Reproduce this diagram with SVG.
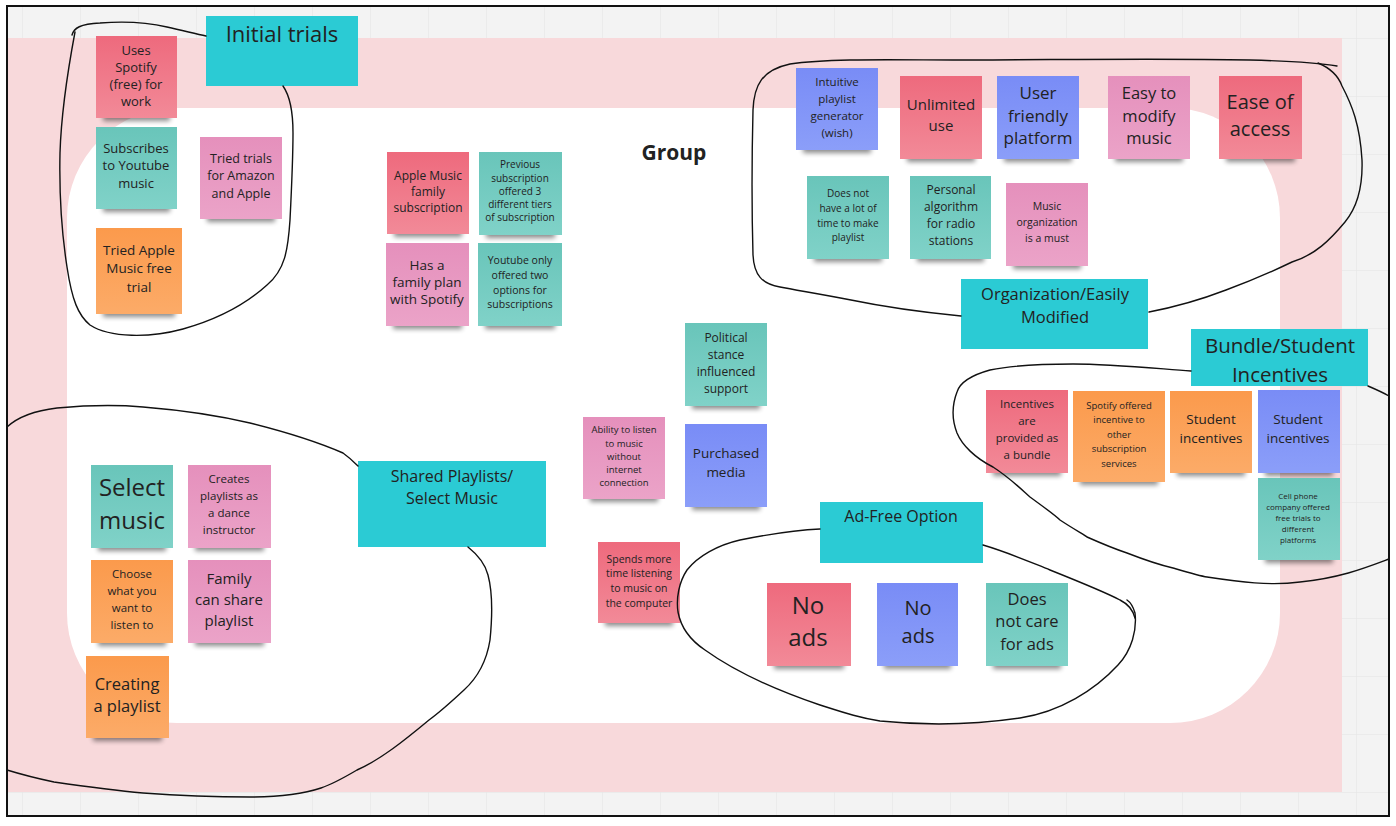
<svg xmlns="http://www.w3.org/2000/svg" width="1396" height="826" viewBox="0 0 1396 826">
<style>
.t{font-family:"Open Sans","Noto Sans",sans-serif;fill:#222;text-anchor:middle;dominant-baseline:central}
.h{fill:#2bcbd4}
.sh{fill:#000;opacity:.45;filter:url(#blur)}
.loop{fill:none;stroke:#111;stroke-width:1.4;stroke-linecap:round}
</style>
<defs>
<filter id="blur" x="-20%" y="-100%" width="140%" height="300%"><feGaussianBlur stdDeviation="2.5"/></filter>
<linearGradient id="gRed" x1="0" y1="0" x2="0" y2="1"><stop offset="0" stop-color="#ee6a7d"/><stop offset="1" stop-color="#f28a98"/></linearGradient>
<linearGradient id="gTeal" x1="0" y1="0" x2="0" y2="1"><stop offset="0" stop-color="#69c5ba"/><stop offset="1" stop-color="#80d2c8"/></linearGradient>
<linearGradient id="gPink" x1="0" y1="0" x2="0" y2="1"><stop offset="0" stop-color="#e590bc"/><stop offset="1" stop-color="#eba3c8"/></linearGradient>
<linearGradient id="gOrange" x1="0" y1="0" x2="0" y2="1"><stop offset="0" stop-color="#fb9a4c"/><stop offset="1" stop-color="#fcab68"/></linearGradient>
<linearGradient id="gBlue" x1="0" y1="0" x2="0" y2="1"><stop offset="0" stop-color="#798cf6"/><stop offset="1" stop-color="#8b9ef9"/></linearGradient>
<pattern id="grid" x="22" y="38" width="58" height="58" patternUnits="userSpaceOnUse"><path d="M0,0 V58 M0,0 H58" stroke="#e3e3e3" stroke-width="1" fill="none"/></pattern>
</defs>
<rect x="0" y="0" width="1396" height="826" fill="#ffffff"/>
<g id="background">
<rect x="7" y="6" width="1382" height="810" fill="#f3f3f3"/>
<rect x="7" y="6" width="1382" height="810" fill="url(#grid)"/>
<rect x="7" y="38" width="1335" height="754" fill="#f8d9db"/>
<rect x="67" y="108" width="1213" height="615" rx="110" ry="110" fill="#ffffff"/>
<text class="t" x="674" y="152" font-size="21" font-weight="bold" fill="#111">Group</text>
</g>

<g id="h-init"><rect class="h" x="206" y="16" width="152" height="70"/><text class="t" x="282" y="33" font-size="22">Initial trials</text></g>
<g id="n1"><rect class="sh" x="103" y="112" width="67" height="9"/><rect x="96" y="36" width="81" height="82" fill="url(#gRed)"/><text class="t" font-size="13"><tspan x="136" y="50">Uses</tspan><tspan x="136" y="67">Spotify</tspan><tspan x="136" y="84">(free) for</tspan><tspan x="136" y="101">work</tspan></text></g>
<g id="n2"><rect class="sh" x="103" y="203" width="67" height="9"/><rect x="96" y="127" width="81" height="82" fill="url(#gTeal)"/><text class="t" font-size="13"><tspan x="136" y="148">Subscribes</tspan><tspan x="136" y="165">to Youtube</tspan><tspan x="136" y="183">music</tspan></text></g>
<g id="n3"><rect class="sh" x="207" y="213" width="68" height="9"/><rect x="200" y="137" width="82" height="82" fill="url(#gPink)"/><text class="t" font-size="12.5"><tspan x="241" y="158">Tried trials</tspan><tspan x="241" y="175">for Amazon</tspan><tspan x="241" y="193">and Apple</tspan></text></g>
<g id="n4"><rect class="sh" x="103" y="308" width="72" height="9"/><rect x="96" y="228" width="86" height="86" fill="url(#gOrange)"/><text class="t" font-size="13.5"><tspan x="139" y="250">Tried Apple</tspan><tspan x="139" y="268">Music free</tspan><tspan x="139" y="287">trial</tspan></text></g>

<g id="m1"><rect class="sh" x="394" y="228" width="68" height="9"/><rect x="387" y="152" width="82" height="82" fill="url(#gRed)"/><text class="t" font-size="12"><tspan x="428" y="175">Apple Music</tspan><tspan x="428" y="191">family</tspan><tspan x="428" y="207">subscription</tspan></text></g>
<g id="m2"><rect class="sh" x="486" y="229" width="69" height="9"/><rect x="479" y="152" width="83" height="83" fill="url(#gTeal)"/><text class="t" font-size="10"><tspan x="520" y="164">Previous</tspan><tspan x="520" y="178">subscription</tspan><tspan x="520" y="191">offered 3</tspan><tspan x="520" y="204">different tiers</tspan><tspan x="520" y="217">of subscription</tspan></text></g>
<g id="m3"><rect class="sh" x="393" y="320" width="69" height="9"/><rect x="386" y="243" width="83" height="83" fill="url(#gPink)"/><text class="t" font-size="13.5"><tspan x="427" y="265">Has a</tspan><tspan x="427" y="282">family plan</tspan><tspan x="427" y="299">with Spotify</tspan></text></g>
<g id="m4"><rect class="sh" x="485" y="320" width="70" height="9"/><rect x="478" y="243" width="84" height="83" fill="url(#gTeal)"/><text class="t" font-size="10.5"><tspan x="520" y="260">Youtube only</tspan><tspan x="520" y="275">offered two</tspan><tspan x="520" y="290">options for</tspan><tspan x="520" y="304">subscriptions</tspan></text></g>

<g id="o1"><rect class="sh" x="803" y="144" width="68" height="9"/><rect x="796" y="68" width="82" height="82" fill="url(#gBlue)"/><text class="t" font-size="11.5"><tspan x="837" y="81">Intuitive</tspan><tspan x="837" y="98">playlist</tspan><tspan x="837" y="115">generator</tspan><tspan x="837" y="132">(wish)</tspan></text></g>
<g id="o2"><rect class="sh" x="907" y="153" width="68" height="9"/><rect x="900" y="76" width="82" height="83" fill="url(#gRed)"/><text class="t" font-size="15"><tspan x="941" y="104">Unlimited</tspan><tspan x="941" y="125">use</tspan></text></g>
<g id="o3"><rect class="sh" x="1004" y="153" width="68" height="9"/><rect x="997" y="76" width="82" height="83" fill="url(#gBlue)"/><text class="t" font-size="17"><tspan x="1038" y="92">User</tspan><tspan x="1038" y="115">friendly</tspan><tspan x="1038" y="137">platform</tspan></text></g>
<g id="o4"><rect class="sh" x="1115" y="153" width="68" height="9"/><rect x="1108" y="76" width="82" height="83" fill="url(#gPink)"/><text class="t" font-size="16.5"><tspan x="1149" y="92">Easy to</tspan><tspan x="1149" y="115">modify</tspan><tspan x="1149" y="137">music</tspan></text></g>
<g id="o5"><rect class="sh" x="1226" y="153" width="69" height="9"/><rect x="1219" y="76" width="83" height="83" fill="url(#gRed)"/><text class="t" font-size="20"><tspan x="1260" y="101">Ease of</tspan><tspan x="1260" y="128">access</tspan></text></g>
<g id="o6"><rect class="sh" x="814" y="253" width="68" height="9"/><rect x="807" y="176" width="82" height="83" fill="url(#gTeal)"/><text class="t" font-size="10"><tspan x="848" y="193">Does not</tspan><tspan x="848" y="208">have a lot of</tspan><tspan x="848" y="223">time to make</tspan><tspan x="848" y="237">playlist</tspan></text></g>
<g id="o7"><rect class="sh" x="917" y="253" width="67" height="9"/><rect x="910" y="176" width="81" height="83" fill="url(#gTeal)"/><text class="t" font-size="12"><tspan x="951" y="189">Personal</tspan><tspan x="951" y="206">algorithm</tspan><tspan x="951" y="223">for radio</tspan><tspan x="951" y="240">stations</tspan></text></g>
<g id="o8"><rect class="sh" x="1013" y="260" width="68" height="9"/><rect x="1006" y="183" width="82" height="83" fill="url(#gPink)"/><text class="t" font-size="10.5"><tspan x="1047" y="206">Music</tspan><tspan x="1047" y="222">organization</tspan><tspan x="1047" y="238">is a must</tspan></text></g>
<g id="h-org"><rect class="h" x="961" y="279" width="187" height="70"/><text class="t" font-size="16.5"><tspan x="1055" y="293">Organization/Easily</tspan><tspan x="1055" y="316">Modified</tspan></text></g>

<g id="h-bundle"><rect class="h" x="1191" y="329" width="177" height="57"/><text class="t" font-size="20.5"><tspan x="1280" y="345">Bundle/Student</tspan><tspan x="1280" y="374">Incentives</tspan></text></g>
<g id="b1"><rect class="sh" x="993" y="467" width="68" height="9"/><rect x="986" y="390" width="82" height="83" fill="url(#gRed)"/><text class="t" font-size="11.5"><tspan x="1027" y="403">Incentives</tspan><tspan x="1027" y="420">are</tspan><tspan x="1027" y="437">provided as</tspan><tspan x="1027" y="454">a bundle</tspan></text></g>
<g id="b2"><rect class="sh" x="1080" y="476" width="78" height="9"/><rect x="1073" y="391" width="92" height="91" fill="url(#gOrange)"/><text class="t" font-size="9.5"><tspan x="1119" y="405">Spotify offered</tspan><tspan x="1119" y="419">incentive to</tspan><tspan x="1119" y="434">other</tspan><tspan x="1119" y="448">subscription</tspan><tspan x="1119" y="463">services</tspan></text></g>
<g id="b3"><rect class="sh" x="1177" y="467" width="68" height="9"/><rect x="1170" y="391" width="82" height="82" fill="url(#gOrange)"/><text class="t" font-size="13.5"><tspan x="1211" y="419">Student</tspan><tspan x="1211" y="438">incentives</tspan></text></g>
<g id="b4"><rect class="sh" x="1265" y="467" width="68" height="9"/><rect x="1258" y="390" width="82" height="83" fill="url(#gBlue)"/><text class="t" font-size="13.5"><tspan x="1298" y="419">Student</tspan><tspan x="1298" y="438">incentives</tspan></text></g>
<g id="b5"><rect class="sh" x="1265" y="554" width="68" height="9"/><rect x="1258" y="478" width="82" height="82" fill="url(#gTeal)"/><text class="t" font-size="8"><tspan x="1298" y="495">Cell phone</tspan><tspan x="1298" y="506">company offered</tspan><tspan x="1298" y="517">free trials to</tspan><tspan x="1298" y="528">different</tspan><tspan x="1298" y="539">platforms</tspan></text></g>

<g id="c1"><rect class="sh" x="692" y="400" width="68" height="9"/><rect x="685" y="323" width="82" height="83" fill="url(#gTeal)"/><text class="t" font-size="12"><tspan x="726" y="337">Political</tspan><tspan x="726" y="354">stance</tspan><tspan x="726" y="371">influenced</tspan><tspan x="726" y="388">support</tspan></text></g>
<g id="c2"><rect class="sh" x="590" y="493" width="68" height="9"/><rect x="583" y="417" width="82" height="82" fill="url(#gPink)"/><text class="t" font-size="9.5"><tspan x="624" y="429">Ability to listen</tspan><tspan x="624" y="443">to music</tspan><tspan x="624" y="456">without</tspan><tspan x="624" y="469">internet</tspan><tspan x="624" y="482">connection</tspan></text></g>
<g id="c3"><rect class="sh" x="692" y="501" width="68" height="9"/><rect x="685" y="424" width="82" height="83" fill="url(#gBlue)"/><text class="t" font-size="13.5"><tspan x="726" y="453">Purchased</tspan><tspan x="726" y="472">media</tspan></text></g>
<g id="c4"><rect class="sh" x="605" y="617" width="68" height="9"/><rect x="598" y="542" width="82" height="81" fill="url(#gRed)"/><text class="t" font-size="10.5"><tspan x="639" y="559">Spends more</tspan><tspan x="639" y="573">time listening</tspan><tspan x="639" y="588">to music on</tspan><tspan x="639" y="603">the computer</tspan></text></g>

<g id="h-ad"><rect class="h" x="820" y="502" width="163" height="61"/><text class="t" x="901" y="516" font-size="16">Ad-Free Option</text></g>
<g id="a1"><rect class="sh" x="774" y="660" width="70" height="9"/><rect x="767" y="583" width="84" height="83" fill="url(#gRed)"/><text class="t" font-size="24"><tspan x="808" y="604">No</tspan><tspan x="808" y="636">ads</tspan></text></g>
<g id="a2"><rect class="sh" x="884" y="660" width="67" height="9"/><rect x="877" y="583" width="81" height="83" fill="url(#gBlue)"/><text class="t" font-size="20"><tspan x="918" y="607">No</tspan><tspan x="918" y="635">ads</tspan></text></g>
<g id="a3"><rect class="sh" x="993" y="660" width="68" height="9"/><rect x="986" y="583" width="82" height="83" fill="url(#gTeal)"/><text class="t" font-size="16.5"><tspan x="1027" y="598">Does</tspan><tspan x="1027" y="620">not care</tspan><tspan x="1027" y="643">for ads</tspan></text></g>

<g id="h-shared"><rect class="h" x="358" y="461" width="188" height="86"/><text class="t" font-size="16"><tspan x="452" y="476">Shared Playlists/</tspan><tspan x="452" y="498">Select Music</tspan></text></g>
<g id="s1"><rect class="sh" x="98" y="542" width="68" height="9"/><rect x="91" y="465" width="82" height="83" fill="url(#gTeal)"/><text class="t" font-size="24"><tspan x="132" y="486">Select</tspan><tspan x="132" y="519">music</tspan></text></g>
<g id="s2"><rect class="sh" x="195" y="542" width="69" height="9"/><rect x="188" y="465" width="83" height="83" fill="url(#gPink)"/><text class="t" font-size="11.5"><tspan x="229" y="478">Creates</tspan><tspan x="229" y="495">playlists as</tspan><tspan x="229" y="512">a dance</tspan><tspan x="229" y="529">instructor</tspan></text></g>
<g id="s3"><rect class="sh" x="98" y="637" width="68" height="9"/><rect x="91" y="560" width="82" height="83" fill="url(#gOrange)"/><text class="t" font-size="11.5"><tspan x="132" y="573">Choose</tspan><tspan x="132" y="590">what you</tspan><tspan x="132" y="607">want to</tspan><tspan x="132" y="624">listen to</tspan></text></g>
<g id="s4"><rect class="sh" x="195" y="637" width="69" height="9"/><rect x="188" y="560" width="83" height="83" fill="url(#gPink)"/><text class="t" font-size="15"><tspan x="229" y="578">Family</tspan><tspan x="229" y="599">can share</tspan><tspan x="229" y="620">playlist</tspan></text></g>
<g id="s5"><rect class="sh" x="93" y="732" width="69" height="9"/><rect x="86" y="656" width="83" height="82" fill="url(#gOrange)"/><text class="t" font-size="16.5"><tspan x="127" y="683">Creating</tspan><tspan x="127" y="705">a playlist</tspan></text></g>

<g id="connectors">
<path class="loop" d="M72,35 C74,28 80,24 100,23 C125,21 150,23 167,27 C185,31 196,34 206,36"/>
<path class="loop" d="M283,86 C290,96 293,110 293,133 C293,160 291,200 290,220 C288,250 285,270 267,285 C245,305 215,320 183,329 C150,338 110,338 90,325 C78,315 72,300 67,267 C62,235 59,200 60,153 C61,120 66,80 75,32"/>
<path class="loop" d="M7,427 C20,415 40,410 57,408 C90,405 120,405 143,407 C180,410 220,416 250,423 C290,433 320,443 343,453 C350,458 354,462 358,466"/>
<path class="loop" d="M468,547 C478,555 485,563 488,575 C492,590 493,610 490,640 C486,665 475,680 464,690 C450,703 440,712 429,720 C405,740 380,760 357,770 C340,780 330,785 321,788 C300,795 275,797 250,797 C210,797 170,795 143,793 C110,790 75,785 54,782 C35,778 20,774 7,770"/>
<path class="loop" d="M961,316 C920,312 880,306 851,300 C820,294 795,290 780,287 C762,284 754,275 753,255 C752,220 752,150 753,110 C754,85 762,70 790,64 C830,58 900,60 960,60 C1050,60 1150,58 1250,60 C1290,61 1320,63 1337,66"/>
<path class="loop" d="M1318,63 C1330,68 1338,75 1342,86 C1352,105 1360,125 1362,160 C1363,190 1355,210 1345,222 C1330,240 1315,255 1292,262 C1265,275 1245,283 1226,290 C1200,300 1175,307 1149,312"/>
<path class="loop" d="M1191,371 C1150,368 1110,364 1073,364 C1040,364 1010,366 990,370 C972,375 960,382 957,392 C952,405 952,420 957,433 C962,445 975,458 993,467 C1010,478 1020,488 1030,497 C1045,508 1055,515 1060,520 C1075,530 1085,535 1087,537 C1105,545 1115,549 1127,553 C1145,560 1160,565 1173,568 C1190,573 1200,576 1207,577 C1240,582 1270,586 1300,582 C1340,578 1365,568 1389,559"/>
<path class="loop" d="M1368,386 C1375,389 1382,392 1389,396"/>
<path class="loop" d="M820,529 C795,530 765,535 740,540 C718,545 698,556 687,570 C679,582 676,598 678,612 C681,628 690,640 705,650 C730,668 770,688 820,705 C845,713 860,718 880,721 C930,726 980,724 1020,718 C1060,712 1095,690 1118,665 C1132,650 1137,630 1135,613 C1133,606 1130,602 1127,600"/>
<path class="loop" d="M983,545 C1010,553 1030,562 1050,570 C1080,582 1105,592 1120,600 C1128,604 1133,610 1135,618"/>
</g>
<rect x="7" y="6" width="1382" height="810" fill="none" stroke="#111" stroke-width="2"/>
</svg>
